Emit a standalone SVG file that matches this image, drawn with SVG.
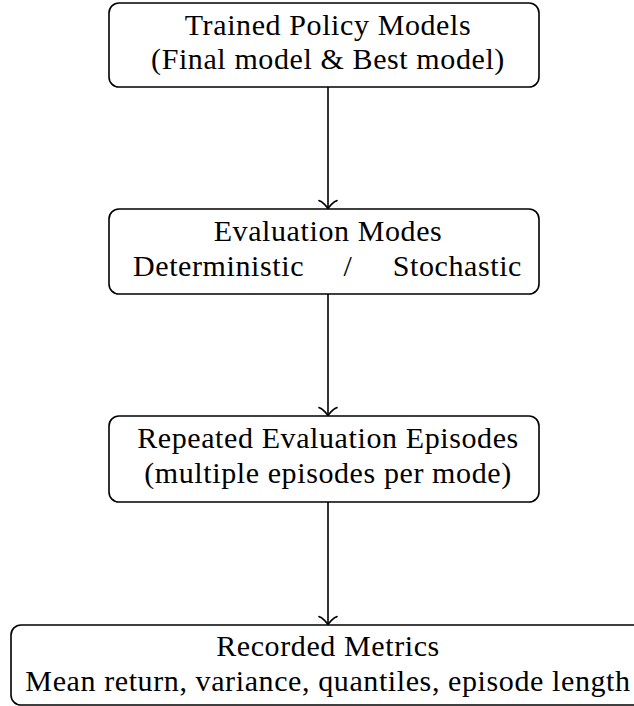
<svg xmlns="http://www.w3.org/2000/svg" width="634" height="706" viewBox="0 0 634 706">
  <style>
    .box { fill: #ffffff; stroke: #000000; stroke-width: 1.6; }
    text { font-family: "Liberation Serif", "Times New Roman", "DejaVu Serif", serif; font-size: 30px; fill: #000000; text-anchor: middle; letter-spacing: 0.6px; }
    .start { text-anchor: start; }
    .end { text-anchor: end; }
    .edge { fill: none; stroke: #000000; stroke-width: 1.6; }
  </style>
  <defs>
    <!-- curved open arrowhead, tip at the origin, pointing along +x -->
    <marker id="tip" markerUnits="userSpaceOnUse" markerWidth="20" markerHeight="22" viewBox="-10 -11 12 22" refX="0" refY="0" orient="auto" overflow="visible">
      <path d="M -8.4,-9 C -7.9,-5.6 -1.7,-0.6 0,0 C -1.7,0.6 -7.9,5.6 -8.4,9" fill="none" stroke="#000000" stroke-width="1.6" stroke-linecap="round" stroke-linejoin="round"/>
    </marker>
  </defs>

  <rect width="634" height="706" fill="#ffffff"/>

  <g id="connectors">
    <line class="edge" x1="328" y1="87" x2="328" y2="209" marker-end="url(#tip)"/>
    <line class="edge" x1="328" y1="294" x2="328" y2="416" marker-end="url(#tip)"/>
    <line class="edge" x1="328" y1="502" x2="328" y2="625" marker-end="url(#tip)"/>
  </g>

  <g id="trained-models">
    <rect class="box" x="109" y="3" width="430" height="84" rx="10" ry="10"/>
    <text x="328" y="35">Trained Policy Models</text>
    <text x="328" y="69">(Final model &amp; Best model)</text>
  </g>

  <g id="evaluation-modes">
    <rect class="box" x="109" y="209" width="430" height="85" rx="10" ry="10"/>
    <text x="328" y="241">Evaluation Modes</text>
    <text class="start" x="133" y="276">Deterministic</text>
    <text x="348" y="276">/</text>
    <text class="end" x="522" y="276">Stochastic</text>
  </g>

  <g id="repeated-episodes">
    <rect class="box" x="109" y="416" width="430" height="86" rx="10" ry="10"/>
    <text x="328" y="448">Repeated Evaluation Episodes</text>
    <text x="328" y="483">(multiple episodes per mode)</text>
  </g>

  <g id="recorded-metrics">
    <rect class="box" x="11" y="625" width="634" height="80" rx="10" ry="10"/>
    <text x="328" y="656">Recorded Metrics</text>
    <text x="328" y="691">Mean return, variance, quantiles, episode length</text>
  </g>
</svg>
